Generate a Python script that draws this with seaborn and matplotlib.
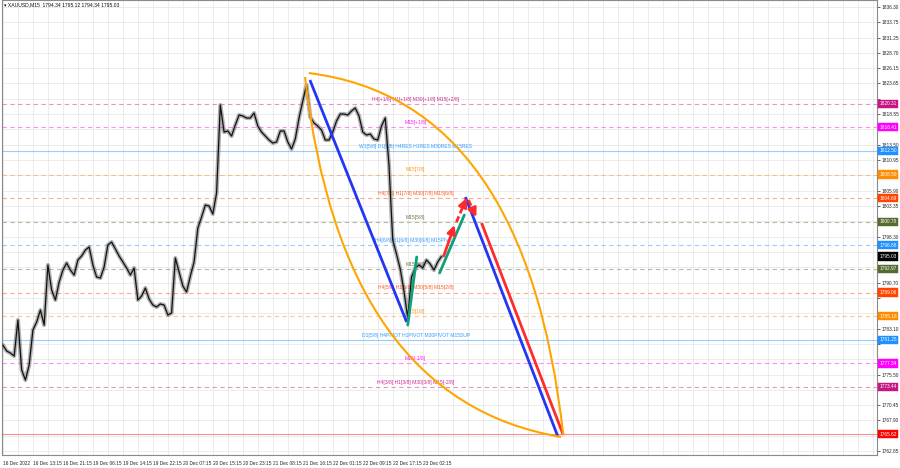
import numpy as np
import pandas as pd
import matplotlib
matplotlib.use("Agg")
import matplotlib.pyplot as plt
import matplotlib.transforms as mtransforms
from matplotlib.path import Path
from matplotlib.patches import PathPatch
import seaborn as sns

# XAUUSD closes, one value per hour of the M15 chart
closes = [
    1780.38, 1779.39, 1779.06, 1778.56, 1784.52, 1776.25, 1774.59, 1777.08, 1782.87, 1784.19,
    1786.17, 1783.69, 1793.62, 1789.48, 1787.83, 1790.81, 1792.79, 1793.95, 1792.79, 1791.96,
    1794.45, 1795.11, 1796.10, 1796.60, 1793.62, 1791.63, 1791.47, 1793.29, 1796.93, 1797.42,
    1796.27, 1795.11, 1794.12, 1793.12, 1791.96, 1793.12, 1787.83, 1788.49, 1789.81, 1787.99,
    1787.00, 1786.67, 1787.17, 1787.00, 1785.35, 1785.68, 1794.78, 1792.46, 1790.15, 1789.15,
    1791.80, 1794.12, 1799.74, 1801.56, 1803.54, 1803.38, 1802.06, 1805.53, 1820.09, 1815.62,
    1815.79, 1814.96, 1816.78, 1818.43, 1818.27, 1817.94, 1817.94, 1818.76, 1816.61, 1815.62,
    1814.96, 1814.30, 1813.80, 1813.97, 1815.79, 1815.79, 1813.97, 1812.81, 1814.46, 1817.94,
    1820.75, 1823.40, 1818.10, 1817.11, 1816.61, 1815.95, 1814.30, 1814.30, 1815.62, 1817.44,
    1818.60, 1818.60, 1818.43, 1819.10, 1819.59, 1818.27, 1815.62, 1815.12, 1815.29, 1814.46,
    1814.30, 1816.61, 1817.94, 1810.16, 1797.75, 1795.44, 1792.96, 1789.32, 1784.85, 1791.63,
    1793.12, 1793.62, 1793.12, 1794.45, 1793.78, 1792.79, 1794.12, 1795.03,
]

x_ticks = [0, 8, 16, 24, 32, 40, 48, 56, 64, 72, 80, 88, 96, 104, 112]
x_labels = ["16 Dec 2022", "16 Dec 13:15", "16 Dec 21:15", "19 Dec 06:15", "19 Dec 14:15",
            "19 Dec 22:15", "20 Dec 07:15", "20 Dec 15:15", "20 Dec 23:15", "21 Dec 08:15",
            "21 Dec 16:15", "22 Dec 01:15", "22 Dec 09:15", "22 Dec 17:15", "23 Dec 02:15"]

y_ticks = [1762.85, 1765.35, 1767.90, 1770.45, 1772.95, 1775.50, 1778.05, 1780.55, 1783.10,
           1785.65, 1788.15, 1790.70, 1793.25, 1795.75, 1798.30, 1800.85, 1803.35, 1805.90,
           1808.45, 1810.95, 1813.50, 1816.05, 1818.55, 1821.10, 1823.65, 1826.15, 1828.70,
           1831.25, 1833.75, 1836.30]

# Murrey math levels
level_prices = [1820.31, 1816.41, 1812.50, 1808.59, 1804.69, 1800.78, 1796.88,
                1792.97, 1789.06, 1785.16, 1781.25, 1777.34, 1773.44, 1765.62]
level_texts = ["H4[+1/8] H1[+1/8] M30[+1/8] M15[+2/8]", "M15[+1/8]",
               "W1[5/8] D1[6/8] H4RES H1RES M30RES M15RES", "M15[7/8]",
               "H4[7/8] H1[7/8] M30[7/8] M15[6/8]", "M15[5/8]",
               "H4[6/8] H1[6/8] M30[6/8] M15PIVOT", "M15[3/8]",
               "H4[5/8] H1[5/8] M30[5/8] M15[2/8]", "M15[1/8]",
               "D1[5/8] H4PIVOT H1PIVOT M30PIVOT M15SUP", "M15[-1/8]",
               "H4[3/8] H1[3/8] M30[3/8] M15[-2/8]", ""]
level_colors = ["#C71585", "#FF00FF", "#1E90FF", "#FF8C00", "#FF4500", "#556B2F", "#1E90FF",
                "#556B2F", "#FF4500", "#FF8C00", "#1E90FF", "#FF00FF", "#C71585", "#FF0000"]
level_solid = [False, False, True, False, False, False, False,
               False, False, False, True, False, False, True]
last_price = 1795.03

# hand drawn forecast (time index, price)
blue1_t, blue1_p = [81.9, 107.7], [1824.22, 1784.19]
blue2_t, blue2_p = [123.4, 148.1], [1804.87, 1765.17]
green1_t, green1_p = [108.0, 110.4], [1783.69, 1794.94]
green2_t, green2_p = [116.5, 123.1], [1792.30, 1801.89]
red_up_t, red_up_p = [117.6, 120.5], [1795.11, 1800.24]
red_updash_t, red_updash_p = [121.0, 123.7], [1800.73, 1804.70]
red_dndash_t, red_dndash_p = [124.2, 126.3], [1804.37, 1801.56]
red_dn_t, red_dn_p = [127.7, 149.5], [1800.57, 1765.50]
arc_upper_t, arc_upper_p = [81.6, 139.6, 149.5], [1825.38, 1820.91, 1765.50]
arc_lower_t, arc_lower_p = [80.6, 90.4, 148.9], [1824.72, 1771.29, 1765.17]

sns.set_style("white")
fam = ["Liberation Sans Narrow", "Liberation Sans", "DejaVu Sans"]
plt.rcParams["font.family"] = fam

fig = plt.figure(figsize=(9, 4.68), dpi=100)
ax = fig.add_axes([0.002, 13 / 468, 877 / 900 - 0.002, 455 / 468])

# grid
for gx in np.arange(0, 236, 4):
    ax.axvline(gx, color="#E4E4E4", lw=0.5, zorder=0)
for gy in y_ticks:
    ax.axhline(gy, color="#E4E4E4", lw=0.5, zorder=0)

# levels
for p, txt, c, solid in zip(level_prices, level_texts, level_colors, level_solid):
    ax.axhline(p, color=c, lw=0.8, alpha=0.45, ls="-" if solid else (0, (4, 3)), zorder=1)
    if txt:
        ax.text(110.1, p + 0.35, txt, color=c, fontsize=3.6, ha="center", va="bottom",
                zorder=2, alpha=0.9)

# price
df = pd.DataFrame({"t": np.arange(len(closes)), "close": closes})
sns.lineplot(data=df, x="t", y="close", color="#555555", lw=3.0, alpha=0.45, ax=ax, zorder=3)
sns.lineplot(data=df, x="t", y="close", color="#111111", lw=0.9, ax=ax, zorder=3)

# forecast drawings
ax.plot(blue1_t, blue1_p, color="#2137F5", lw=2, zorder=4, solid_capstyle="butt")
ax.plot(blue2_t, blue2_p, color="#2137F5", lw=2, zorder=4, solid_capstyle="butt")
ax.plot(green1_t, green1_p, color="#0FA07A", lw=2, zorder=4)
ax.plot(green2_t, green2_p, color="#0FA07A", lw=2, zorder=4)
ax.plot(red_dn_t, red_dn_p, color="#FF2A2A", lw=2, zorder=4, solid_capstyle="butt")

arrow = dict(arrowstyle="-|>,head_length=0.5,head_width=0.25", color="#FF2A2A", lw=2,
             shrinkA=0, shrinkB=0)
ax.annotate("", xy=(red_up_t[1], red_up_p[1]), xytext=(red_up_t[0], red_up_p[0]),
            arrowprops=arrow, zorder=5)
for tt, pp in [(red_updash_t, red_updash_p), (red_dndash_t, red_dndash_p)]:
    ax.plot(tt, pp, color="#FF2A2A", lw=2, ls=(0, (2.2, 1.2)), zorder=4)
    ax.annotate("", xy=(tt[1], pp[1]),
                xytext=(tt[0] + 0.6 * (tt[1] - tt[0]), pp[0] + 0.6 * (pp[1] - pp[0])),
                arrowprops=arrow, zorder=5)

for tt, pp in [(arc_upper_t, arc_upper_p), (arc_lower_t, arc_lower_p)]:
    path = Path(list(zip(tt, pp)), [Path.MOVETO, Path.CURVE3, Path.CURVE3])
    ax.add_patch(PathPatch(path, fill=False, edgecolor="#FFA500", lw=1.5, zorder=4))

ax.set_xlim(-0.3, 233.2)
ax.set_ylim(1762.19, 1837.46)

# price boxes on the right scale
box_prices = level_prices + [last_price]
box_colors = level_colors + ["#000000"]

# axes / ticks (scale labels sitting under a price box are hidden, as on the terminal)
ax.yaxis.tick_right()
ax.set_yticks(y_ticks)
ax.set_yticklabels(["" if min(abs(v - b) for b in box_prices) < 0.95 else f"{v:.2f}"
                    for v in y_ticks], fontsize=3.4)
ax.tick_params(axis="y", length=2, pad=1.5, width=0.5, colors="#222222")
ax.set_xticks(x_ticks)
ax.set_xticklabels(x_labels, fontsize=3.4, ha="left")
ax.tick_params(axis="x", length=2, pad=2, width=0.5, colors="#222222")
ax.set_xlabel("")
ax.set_ylabel("")
for s in ax.spines.values():
    s.set_color("#8A8A8A")
    s.set_linewidth(0.8)

trans = mtransforms.blended_transform_factory(fig.transFigure, ax.transData)
for p, c in zip(box_prices, box_colors):
    ax.text(888 / 900, p, f"{p:.2f}", transform=trans, fontsize=3.4, color="white",
            ha="center", va="center", clip_on=False, zorder=6,
            bbox=dict(boxstyle="square,pad=0.35", fc=c, ec=c, lw=0.3))

ax.text(0.003, 0.994, "▾ XAUUSD,M15  1794.34 1795.12 1794.34 1795.03", transform=ax.transAxes,
        fontsize=3.6, ha="left", va="top", color="#111111", family=fam)

fig.savefig("out.png", dpi=100)
